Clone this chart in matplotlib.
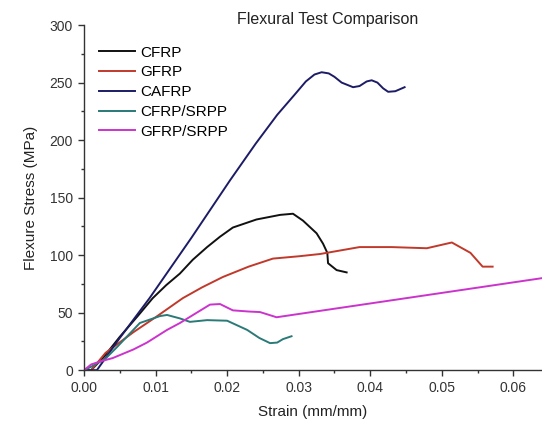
import matplotlib
matplotlib.use("Agg")
import matplotlib.pyplot as plt
from matplotlib.ticker import MultipleLocator, FormatStrFormatter

plt.rcParams['font.family'] = ['Liberation Sans', 'DejaVu Sans']

# --- DATA ---
cfrp_x = [0.0, 0.0010, 0.0027, 0.0050, 0.0075, 0.0096, 0.0115, 0.0134, 0.0152, 0.0172,
          0.0190, 0.0208, 0.0241, 0.0274, 0.0292, 0.0306, 0.0325, 0.0334, 0.0340, 0.0341,
          0.0353, 0.0367]
cfrp_y = [0, 0, 11, 29, 47, 62.6, 74, 84, 96, 107, 116, 124, 131, 135, 136, 130, 119,
          110, 102, 93, 87, 85]

gfrp_x = [0.0, 0.0010, 0.0030, 0.0069, 0.0100, 0.0138, 0.0165, 0.0194, 0.0230, 0.0264,
          0.0300, 0.0330, 0.0385, 0.0430, 0.0479, 0.0514, 0.0540, 0.0557, 0.0571]
gfrp_y = [0, 0, 15, 33, 46, 62.6, 72, 81, 90, 97, 99, 101, 107, 107, 106, 111, 102, 90, 90]

cafrp_x = [0.0, 0.0018, 0.0050, 0.0092, 0.0150, 0.0204, 0.0240, 0.0270, 0.0295, 0.0310,
           0.0322, 0.0332, 0.0342, 0.0350, 0.0360, 0.0376, 0.0385, 0.0395, 0.0402, 0.0410,
           0.0418, 0.0425, 0.0435, 0.0448]
cafrp_y = [0, 0, 28, 63, 115, 165, 197, 222, 240, 251, 257, 259, 258, 255, 250, 246,
           247, 251, 252, 250, 245, 242, 242.5, 246]

cs_x = [0.0, 0.0010, 0.0030, 0.0046, 0.0078, 0.0106, 0.0116, 0.0134, 0.0148, 0.0172,
        0.0200, 0.0228, 0.0245, 0.0260, 0.0270, 0.0278, 0.0290]
cs_y = [0, 3, 10, 20, 41, 47, 48, 45, 42, 43.5, 43, 35, 28, 23.5, 24, 27, 29.5]

gs_x = [0.0, 0.0010, 0.0025, 0.0040, 0.0069, 0.0088, 0.0116, 0.0134, 0.0176, 0.0190,
        0.0208, 0.0230, 0.0246, 0.0264, 0.0269, 0.0640]
gs_y = [0, 5, 8, 10.5, 18, 24, 35, 41, 57, 57.5, 52, 51, 50.5, 47, 46, 80]

labels = ['CFRP', 'GFRP', 'CAFRP', 'CFRP/SRPP', 'GFRP/SRPP']
colors = ['#111111', '#c0392b', '#1c1c66', '#2a7a78', '#cc33cc']

# --- PLOT ---
fig = plt.figure(figsize=(5.42, 4.25), dpi=100)
ax = fig.add_axes([0.155, 0.129, 0.845, 0.812])

series = [(cfrp_x, cfrp_y), (gfrp_x, gfrp_y), (cafrp_x, cafrp_y), (cs_x, cs_y), (gs_x, gs_y)]
for (xs, ys), lab, col in zip(series, labels, colors):
    ax.plot(xs, ys, color=col, lw=1.4, label=lab)

ax.set_xlim(0, 0.064)
ax.set_ylim(0, 300)
ax.xaxis.set_major_locator(MultipleLocator(0.01))
ax.xaxis.set_minor_locator(MultipleLocator(0.005))
ax.xaxis.set_major_formatter(FormatStrFormatter('%.2f'))
ax.yaxis.set_major_locator(MultipleLocator(50))
ax.yaxis.set_minor_locator(MultipleLocator(25))

for side in ['top', 'right']:
    ax.spines[side].set_visible(False)
for side in ['left', 'bottom']:
    ax.spines[side].set_color('#333333')
    ax.spines[side].set_linewidth(1.0)

ax.tick_params(which='major', direction='out', length=4, width=1, colors='#333333',
               labelsize=10, labelcolor='#333333', pad=4)
ax.tick_params(which='minor', direction='out', length=2.5, width=1, colors='#333333')

ax.set_xlabel('Strain (mm/mm)', fontsize=11, color='#222222', labelpad=7)
ax.set_ylabel('Flexure Stress (MPa)', fontsize=11, color='#222222', labelpad=8)

fig.text(0.604, 0.953, 'Flexural Test Comparison', fontsize=11.5, color='#222222',
         ha='center', va='center')

ax.legend(loc='upper left', bbox_to_anchor=(0.0, 0.985), frameon=False, fontsize=11,
          handlelength=2.35, handletextpad=0.35, labelspacing=0.38, borderaxespad=0.6)

fig.savefig('out.png', dpi=100)
